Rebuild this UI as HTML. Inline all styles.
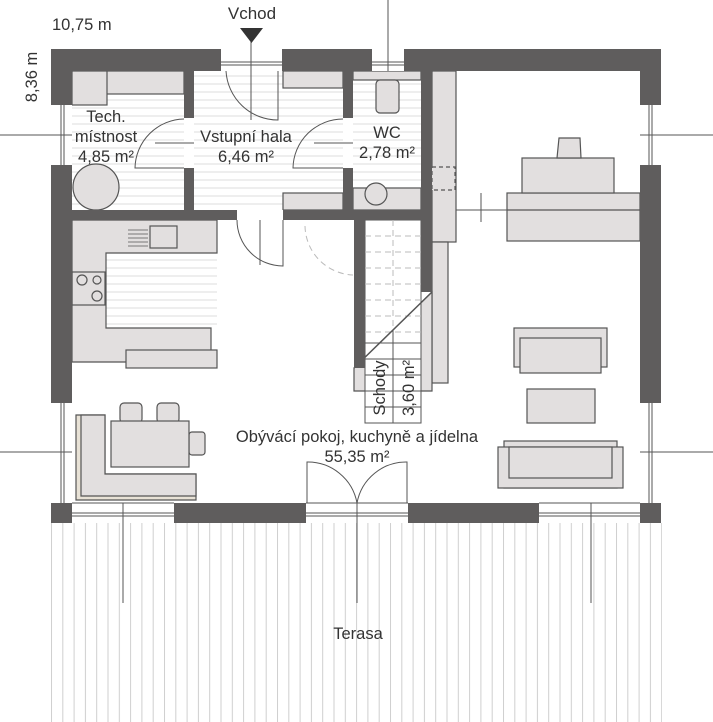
<!DOCTYPE html>
<html><head><meta charset="utf-8"><style>
html,body{margin:0;padding:0;background:#fff;}
svg{display:block;}
text{font-family:"Liberation Sans",sans-serif;fill:#333;}
</style></head><body>
<svg width="713" height="722" viewBox="0 0 713 722" xmlns="http://www.w3.org/2000/svg">
<defs>
<pattern id="hs" width="8" height="8" patternUnits="userSpaceOnUse"><rect width="8" height="8" fill="#fff"/><line x1="0" y1="4" x2="8" y2="4" stroke="#e4e2e2" stroke-width="1.2"/></pattern>
<pattern id="ter" x="51" width="11.3" height="10" patternUnits="userSpaceOnUse"><line x1="0.5" y1="0" x2="0.5" y2="10" stroke="#cfcfcf" stroke-width="1"/></pattern>
</defs>
<rect x="51" y="523" width="611" height="199" fill="url(#ter)"/>
<rect x="72" y="71" width="112" height="139" fill="url(#hs)"/>
<rect x="194" y="71" width="149" height="139" fill="url(#hs)"/>
<rect x="353" y="71" width="68" height="139" fill="url(#hs)"/>
<rect x="106" y="253" width="111" height="75" fill="url(#hs)"/>
<g fill="#e2dfdf" stroke="#555" stroke-width="1.2">
<rect x="72" y="71" width="112" height="23"/>
<rect x="72" y="71" width="35" height="34"/>
<circle cx="96" cy="187" r="23"/>
<rect x="283" y="71" width="60" height="17"/>
<rect x="283" y="193" width="60" height="17"/>
<rect x="353" y="71" width="68" height="9"/>
<rect x="376" y="80" width="23" height="33" rx="4"/>
<rect x="353" y="188" width="68" height="22"/>
<circle cx="376" cy="194" r="11"/>
<rect x="432" y="71" width="24" height="171"/>
<rect x="432" y="242" width="16" height="141"/>
<rect x="432" y="167" width="23" height="23" stroke-dasharray="4,3"/>
<rect x="507" y="193" width="133" height="48"/>
<line x1="507" y1="210" x2="640" y2="210"/>
<rect x="522" y="158" width="92" height="35"/>
<path d="M557 158 L559 138 L580 138 L581 158 Z"/>
<path d="M72 220 H217 V253 H106 V328 H211 V362 H72 Z"/>
<rect x="126" y="350" width="91" height="18"/>
<rect x="150" y="226" width="27" height="22" fill="none"/>
<rect x="72" y="272" width="33" height="33" fill="none"/>
<circle cx="82" cy="280" r="5" fill="none"/><circle cx="97" cy="280" r="4" fill="none"/><circle cx="97" cy="296" r="5" fill="none"/>
<path d="M76 415 H105 V474 H196 V500 H76 Z" fill="#e8e2d6"/>
<path d="M81 415 H105 V474 H196 V496 H81 Z"/>
<rect x="120" y="403" width="22" height="20" rx="4"/>
<rect x="157" y="403" width="22" height="20" rx="4"/>
<rect x="189" y="432" width="16" height="23" rx="3"/>
<rect x="111" y="421" width="78" height="46"/>
<rect x="514" y="328" width="93" height="39"/>
<rect x="520" y="338" width="81" height="35"/>
<rect x="527" y="389" width="68" height="34"/>
<rect x="504" y="441" width="113" height="47"/>
<rect x="498" y="447" width="125" height="41"/>
<rect x="509" y="447" width="103" height="31"/>
<path d="M354 368 L432 292 V391 H354 Z"/>
</g>
<g stroke="#555" stroke-width="0.8" fill="none">
<line x1="128" y1="230" x2="148" y2="230"/><line x1="128" y1="234" x2="148" y2="234"/><line x1="128" y1="238" x2="148" y2="238"/><line x1="128" y1="242" x2="148" y2="242"/><line x1="128" y1="246" x2="148" y2="246"/>
</g>
<rect x="365" y="220" width="56" height="203" fill="#fff" stroke="#555" stroke-width="1"/>
<g stroke="#bbb" stroke-width="1" stroke-dasharray="6,4">
<line x1="365" y1="236" x2="421" y2="236"/><line x1="365" y1="252" x2="421" y2="252"/><line x1="365" y1="268" x2="421" y2="268"/><line x1="365" y1="284" x2="421" y2="284"/><line x1="365" y1="300" x2="421" y2="300"/><line x1="365" y1="316" x2="421" y2="316"/><line x1="365" y1="332" x2="421" y2="332"/><line x1="393" y1="220" x2="393" y2="340"/>
<path d="M305 226 A50 50 0 0 0 353 275" fill="none"/>
</g>
<g stroke="#555" stroke-width="1">
<line x1="365" y1="343" x2="421" y2="343"/><line x1="365" y1="359" x2="421" y2="359"/><line x1="365" y1="375" x2="421" y2="375"/><line x1="365" y1="391" x2="421" y2="391"/><line x1="365" y1="407" x2="421" y2="407"/><line x1="393" y1="330" x2="393" y2="423"/>
<line x1="354" y1="368" x2="432" y2="292" stroke-width="1.5"/>
</g>
<g fill="#5f5d5d">
<rect x="51" y="49" width="610" height="22"/>
<rect x="51" y="49" width="21" height="474"/>
<rect x="640" y="49" width="21" height="474"/>
<rect x="51" y="503" width="610" height="20"/>
<rect x="184" y="71" width="10" height="139"/>
<rect x="72" y="210" width="359" height="10"/>
<rect x="343" y="71" width="10" height="139"/>
<rect x="421" y="71" width="11" height="221"/>
<rect x="354" y="220" width="11" height="148"/>
</g>
<g fill="#fff" stroke="none">
<rect x="221" y="49" width="61" height="22"/>
<rect x="372" y="49" width="32" height="22"/>
<rect x="51" y="105" width="21" height="60"/>
<rect x="640" y="105" width="21" height="60"/>
<rect x="51" y="403" width="21" height="100"/>
<rect x="640" y="403" width="21" height="100"/>
<rect x="72" y="503" width="102" height="20"/>
<rect x="306" y="503" width="102" height="20"/>
<rect x="539" y="503" width="101" height="20"/>
<rect x="184" y="118" width="10" height="50"/>
<rect x="343" y="118" width="10" height="50"/>
<rect x="237" y="210" width="46" height="10"/>
</g>
<g stroke="#555" stroke-width="1" fill="none">
<line x1="221" y1="62" x2="282" y2="62"/><line x1="221" y1="65" x2="282" y2="65"/>
<line x1="372" y1="62" x2="404" y2="62"/><line x1="372" y1="65" x2="404" y2="65"/>
<line x1="61" y1="105" x2="61" y2="165"/><line x1="64" y1="105" x2="64" y2="165"/>
<line x1="649" y1="105" x2="649" y2="165"/><line x1="652" y1="105" x2="652" y2="165"/>
<line x1="61" y1="403" x2="61" y2="503"/><line x1="64" y1="403" x2="64" y2="503"/>
<line x1="649" y1="403" x2="649" y2="503"/><line x1="652" y1="403" x2="652" y2="503"/>
<line x1="72" y1="513" x2="174" y2="513"/><line x1="72" y1="516" x2="174" y2="516"/>
<line x1="306" y1="513" x2="408" y2="513"/><line x1="306" y1="516" x2="408" y2="516"/>
<line x1="539" y1="513" x2="640" y2="513"/><line x1="539" y1="516" x2="640" y2="516"/>
<line x1="72" y1="503" x2="174" y2="503"/><line x1="306" y1="503" x2="408" y2="503"/><line x1="539" y1="503" x2="640" y2="503"/>
<path d="M226 71 A52 52 0 0 0 278 120 V71"/>
<path d="M184 119 A50 50 0 0 0 135 168 H184"/>
<line x1="155" y1="143" x2="194" y2="143"/>
<path d="M343 119 A50 50 0 0 0 293 168 H343"/>
<line x1="314" y1="143" x2="353" y2="143"/>
<path d="M237 220 A46 46 0 0 0 283 266 V220"/>
<path d="M307 503 V462 A50 50 0 0 1 357 503"/>
<path d="M407 503 V462 A50 50 0 0 0 357 503"/>
<line x1="251" y1="40" x2="251" y2="120"/>
<line x1="388" y1="0" x2="388" y2="71"/>
<line x1="0" y1="135" x2="72" y2="135"/>
<line x1="640" y1="135" x2="713" y2="135"/>
<line x1="0" y1="452" x2="72" y2="452"/>
<line x1="640" y1="452" x2="713" y2="452"/>
<line x1="123" y1="503" x2="123" y2="603"/>
<line x1="357" y1="503" x2="357" y2="603"/>
<line x1="591" y1="503" x2="591" y2="603"/>
<line x1="260" y1="220" x2="260" y2="265"/>
<line x1="456" y1="210" x2="507" y2="210"/>
<line x1="481" y1="193" x2="481" y2="222"/>
</g>
<polygon points="240,28 263,28 251.5,43" fill="#333"/>
<g font-size="16.5">
<text x="52" y="30">10,75 m</text>
<text x="252" y="19" text-anchor="middle" font-size="17">Vchod</text>
<text transform="translate(37,77) rotate(-90)" text-anchor="middle">8,36 m</text>
<text x="106" y="122" text-anchor="middle">Tech.</text>
<text x="106" y="142" text-anchor="middle">místnost</text>
<text x="106" y="162" text-anchor="middle">4,85 m²</text>
<text x="246" y="142" text-anchor="middle">Vstupní hala</text>
<text x="246" y="162" text-anchor="middle">6,46 m²</text>
<text x="387" y="138" text-anchor="middle">WC</text>
<text x="387" y="158" text-anchor="middle">2,78 m²</text>
<text transform="translate(385,388) rotate(-90)" text-anchor="middle">Schody</text>
<text transform="translate(414,388) rotate(-90)" text-anchor="middle">3,60 m²</text>
<text x="357" y="442" text-anchor="middle">Obývácí pokoj, kuchyně a jídelna</text>
<text x="357" y="462" text-anchor="middle">55,35 m²</text>
<text x="358" y="639" text-anchor="middle">Terasa</text>
</g>
</svg>
</body></html>
